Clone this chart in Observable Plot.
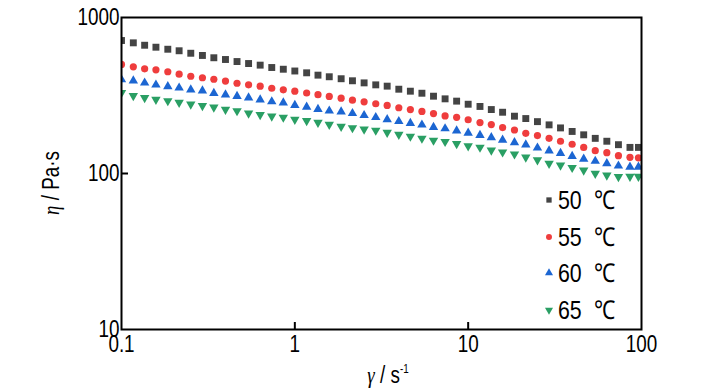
<!DOCTYPE html>
<html>
<head>
<meta charset="utf-8">
<script src="https://cdn.jsdelivr.net/npm/d3@7"></script>
<script src="https://cdn.jsdelivr.net/npm/@observablehq/plot@0.6"></script>
<style>
  html, body { margin: 0; padding: 0; background: #fff; }
  #chart { position: relative; width: 728px; height: 390px; overflow: hidden;
    font-family: "Liberation Sans", Arial, sans-serif; color: #000; }
  .abs { position: absolute; white-space: pre; line-height: 1; }
</style>
</head>
<body>
<div id="chart"></div>
<script>
// Shear rate (s^-1)
const shearRate = [0.1, 0.117, 0.136, 0.158, 0.185, 0.215, 0.251, 0.293, 0.341, 0.398,
  0.464, 0.541, 0.631, 0.736, 0.858, 1.0, 1.17, 1.36, 1.58, 1.85,
  2.15, 2.51, 2.93, 3.41, 3.98, 4.64, 5.41, 6.31, 7.36, 8.58,
  10.0, 11.7, 13.6, 15.8, 18.5, 21.5, 25.1, 29.3, 34.1, 39.8,
  46.4, 54.1, 63.1, 73.6, 85.8, 96];
// Viscosity (Pa·s)
const eta50 = [712, 688, 664, 645, 626, 612, 590, 571, 552, 538, 522, 507, 495, 478, 466,
  454, 442, 427, 417, 405, 393, 381, 370, 363, 347, 337, 327, 313, 301, 291,
  278, 269, 257, 247, 233, 225, 215, 205, 196, 186, 177, 168, 161, 153, 147, 147];
const eta55 = [500, 483, 469, 462, 449, 433, 420, 411, 402, 391, 379, 370, 363, 352, 344,
  337, 328, 320, 312, 304, 295, 288, 280, 273, 264, 257, 250, 242, 234, 229,
  221, 212, 206, 197, 190, 181, 175, 168, 161, 154, 147, 140, 136, 130, 127, 126];
const eta60 = [400, 393, 381, 370, 361, 354, 344, 339, 327, 320, 313, 306, 297, 289, 284,
  274, 267, 258, 252, 249, 243, 236, 229, 222, 216, 210, 205, 198, 194, 188,
  182, 176, 170, 164, 158, 153, 146, 140, 135, 129, 124, 120, 116, 112, 110, 110];
const eta65 = [329, 315, 306, 298, 292, 285, 278, 272, 266, 257, 252, 243, 238, 233, 229,
  222, 218, 212, 206, 200, 196, 192, 189, 183, 178, 173, 168, 163, 160, 155,
  150, 147, 141, 137, 133, 127, 122, 116, 113, 109, 105, 100, 97.5, 95.2, 95.7, 95.7];

const seriesNames = ["50", "55", "60", "65"];
const seriesColors = ["#444444", "#ef3d3d", "#1c66d2", "#2a9f64"];
const seriesSymbols = ["square", "circle", "triangle", "triangle"];
const seriesRotate = [0, 0, 0, 180];
const seriesR = [3.9, 3.6, 3.5, 3.5];

const xTickValues = [0.1, 1, 10, 100];
const xTickLabels = ["0.1", "1", "10", "100"];
const yTickValues = [10, 100, 1000];
const yTickLabels = ["10", "100", "1000"];
const xInnerTicks = [1, 10];
const yInnerTicks = [100];

const allSeries = [eta50, eta55, eta60, eta65];
const font = '"Liberation Sans", Arial, sans-serif';
const NARROW = 0.82;

const W = 728, H = 390, mL = 121, mR = 87, mT = 17, mB = 61;

const dotMarks = allSeries.map((vals, i) =>
  Plot.dot(shearRate.map((x, j) => ({x, y: vals[j]})), {
    x: "x", y: "y", symbol: seriesSymbols[i], r: seriesR[i], fill: seriesColors[i],
    stroke: "none", rotate: seriesRotate[i], clip: true
  }));

const plot = Plot.plot({
  width: W, height: H,
  marginLeft: mL, marginRight: mR, marginTop: mT, marginBottom: mB,
  style: {fontFamily: font, fontSize: "23px", color: "#000", background: "transparent", overflow: "visible"},
  x: {type: "log", domain: [0.1, 100]},
  y: {type: "log", domain: [10, 1000]},
  marks: [
    ...dotMarks,
    Plot.frame({stroke: "#000", strokeWidth: 2}),
    Plot.tickX(xInnerTicks, {x: d => d, stroke: "#000", strokeWidth: 2, insetTop: H - mT - mB - 7}),
    Plot.tickY(yInnerTicks, {y: d => d, stroke: "#000", strokeWidth: 2, insetRight: W - mL - mR - 7}),
    Plot.axisX(xTickValues, {tickSize: 0, tickPadding: 6, fontSize: 23, label: null,
      tickFormat: d => xTickLabels[xTickValues.indexOf(d)]}),
    Plot.axisY(yTickValues, {tickSize: 0, tickPadding: 2, fontSize: 23, label: null,
      tickFormat: d => yTickLabels[yTickValues.indexOf(d)]})
  ]
});

const chart = document.getElementById("chart");
chart.appendChild(plot);

// condense the tick labels horizontally (reference uses a narrow sans face)
plot.querySelectorAll("text").forEach(t => {
  const len = t.getComputedTextLength();
  if (len > 0) {
    t.setAttribute("textLength", (len * NARROW).toFixed(2));
    t.setAttribute("lengthAdjust", "spacingAndGlyphs");
  }
});

// axis titles
const ylab = document.createElement("div");
ylab.className = "abs";
ylab.style.cssText = `left:51px;top:183px;font-size:23px;transform:translate(-50%,-50%) rotate(-90deg) scale(${NARROW},1);`;
ylab.innerHTML = '<i style="font-family:\'Liberation Serif\',serif">η</i> / Pa·s';
chart.appendChild(ylab);

const xlab = document.createElement("div");
xlab.className = "abs";
xlab.style.cssText = `left:388px;top:375px;font-size:23px;transform:translate(-50%,-50%) scale(${NARROW},1);`;
xlab.innerHTML = '<i style="font-family:\'Liberation Serif\',serif">γ</i> / s<span style="font-size:12px;vertical-align:10px">-1</span>';
chart.appendChild(xlab);

// legend
const legendTop = [200, 237, 273, 310];
const symbolTypes = {square: d3.symbolSquare, circle: d3.symbolCircle, triangle: d3.symbolTriangle};
seriesNames.forEach((name, i) => {
  const row = document.createElement("div");
  row.className = "abs";
  row.style.cssText = `left:542px;top:${legendTop[i]}px;transform:translateY(-50%);display:flex;align-items:center;font-size:26px;`;
  const path = d3.symbol().type(symbolTypes[seriesSymbols[i]]).size(28)();
  row.innerHTML = `<svg width="14" height="14" viewBox="-7 -7 14 14" style="margin-right:2px"><path d="${path}" fill="${seriesColors[i]}" transform="rotate(${seriesRotate[i]})"/></svg><span style="display:inline-block;transform:scale(${NARROW},1);transform-origin:left center">${name}  ℃</span>`;
  chart.appendChild(row);
});
</script>
</body>
</html>
